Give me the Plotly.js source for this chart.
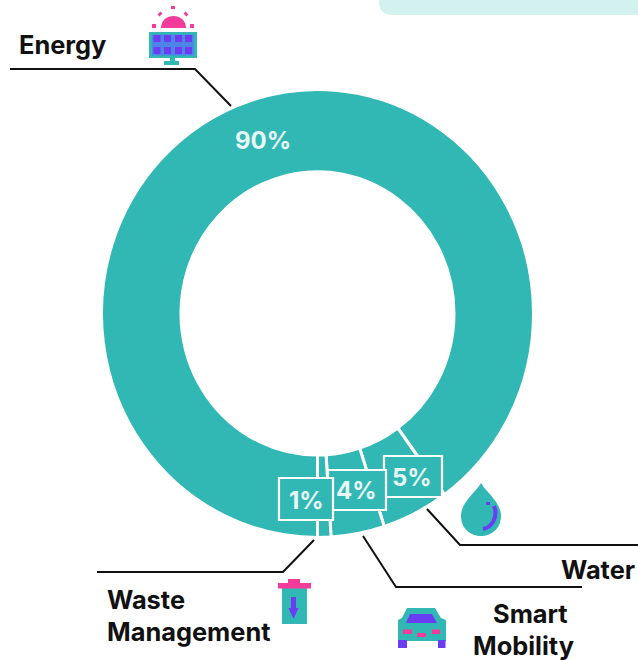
<!DOCTYPE html>
<html>
<head>
<meta charset="utf-8">
<script src="https://cdn.plot.ly/plotly-3.0.1.min.js"></script>
<style>html,body{margin:0;padding:0;background:#fff}#chart{width:638px;height:660px}</style>
</head>
<body>
<div id="chart"></div>
<script>
const categories = ['Energy', 'Water', 'Smart Mobility', 'Waste Management'];
const shares = [90, 5, 4, 1];
const percentLabels = shares.map(v => v + '%');

const W = 638, H = 660;
const TEAL = '#32b8b4', PINK = '#f23b9b', PURPLE = '#6a3cf2', BLUE = '#4d84e8', INK = '#111111';
const px = x => x / W;
const py = y => 1 - y / H;
// Build a paper-referenced SVG path from pixel tokens: letters stay, numbers alternate x,y
function path(tokens) {
  let isX = true;
  return tokens.trim().split(/\s+/).map(t => {
    if (/^[A-Za-z]$/.test(t)) { isX = true; return t; }
    const v = isX ? px(+t) : py(+t);
    isX = !isX;
    return v.toFixed(5);
  }).join(' ');
}
const shape = (d, o) => Object.assign({type: 'path', xref: 'paper', yref: 'paper', path: path(d), layer: 'above', line: {width: 0}}, o);
const fill = (d, c) => shape(d, {fillcolor: c});
const stroke = (d, c, w) => shape(d, {line: {color: c, width: w, shape: 'linear'}, fillcolor: 'rgba(0,0,0,0)'});
const rect = (x0, y0, x1, y1, c) => fill(`M ${x0} ${y0} L ${x1} ${y0} L ${x1} ${y1} L ${x0} ${y1} Z`, c);
const box = (x0, y0, x1, y1) => shape(`M ${x0} ${y0} L ${x1} ${y0} L ${x1} ${y1} L ${x0} ${y1} Z`, {fillcolor: TEAL, line: {color: '#ffffff', width: 2.2}});

const shapes = [
  // top-right panel corner
  shape('M 379 -5 L 379 3 Q 380 15 393 15 L 640 15 L 640 -5 Z', {fillcolor: '#d2f1ef', layer: 'below'}),
  // leader lines
  stroke('M 10 69 L 195 69 L 231 106', INK, 2),
  stroke('M 314 540 L 283 572 L 97 572', INK, 2),
  stroke('M 363 536 L 396 587 L 582 587', INK, 2),
  stroke('M 427 509 L 460 545 L 640 545', INK, 2),
  // value boxes
  box(384, 456, 442, 497),
  box(328, 470, 386, 510),
  box(279, 478, 333, 520),
  // solar panel icon
  fill('M 161 28 C 161 12 186 12 186 28 Z', PINK),
  stroke('M 173 6 L 173 9', PINK, 4),
  stroke('M 159 13 L 161 15', PINK, 4),
  stroke('M 187 13 L 185 15', PINK, 4),
  stroke('M 152 26 L 156 26', PINK, 4),
  stroke('M 190 26 L 194 26', PINK, 4),
  rect(149, 32, 197, 58, TEAL),
  rect(152, 34.5, 194, 55.5, BLUE),
  rect(153.5, 35, 160.5, 42, PURPLE), rect(164, 35, 171, 42, PURPLE), rect(175, 35, 182, 42, PURPLE), rect(185, 35, 192, 42, PURPLE),
  rect(153.5, 47, 160.5, 54, PURPLE), rect(164, 47, 171, 54, PURPLE), rect(175, 47, 182, 54, PURPLE), rect(185, 47, 192, 54, PURPLE),
  rect(170, 58, 175, 62, TEAL),
  rect(164, 61, 179, 65, TEAL),
  // bin icon
  rect(282, 588, 307, 624, TEAL),
  rect(278, 583, 311, 588.5, PINK),
  rect(288, 579, 300, 584, PINK),
  rect(291, 597, 296, 610, PURPLE),
  fill('M 288.5 608 L 298.5 608 L 293.5 619 Z', PURPLE),
  // drop icon
  fill('M 481 483 C 476 492 461 502 461 516 C 461 529 471 536 481 536 C 491 536 501 529 501 516 C 501 502 486 492 481 483 Z', TEAL),
  fill('M 486 502 L 490 502 L 490 505 L 486 505 Z', PURPLE),
  stroke('M 494 506 C 498 516 493 527 483 529', PURPLE, 4),
  // car icon
  fill('M 407 608 L 435 608 L 441 618 L 446 620 L 446 641 L 398 641 L 398 620 L 402 618 Z', TEAL),
  fill('M 410 614 L 432 614 L 437 623 L 406 623 Z', PURPLE),
  rect(403, 629.5, 412, 634, PINK),
  rect(432, 629.5, 440, 634, PINK),
  rect(417, 633, 426, 637, PINK),
  rect(398, 640, 407, 648, PURPLE),
  rect(438, 640, 445.5, 648, PURPLE)
];

const txt = (s, x, y, anchor, color, size) => ({
  text: '<b>' + s + '</b>', xref: 'paper', yref: 'paper', x: px(x), y: py(y),
  xanchor: anchor, yanchor: 'middle', showarrow: false, borderpad: 0,
  font: {family: 'Inter, sans-serif', size: size || 25.4, color: color || INK}
});
const [energy, water, mobility, waste] = categories;
const PCT = '#e6f7f6';
const annotations = [
  txt(energy, 18, 45, 'left'),
  txt(water, 636, 569, 'right'),
  txt(mobility.split(' ')[0], 530, 613, 'center'),
  txt(mobility.split(' ')[1], 523, 645, 'center'),
  txt(waste.split(' ')[0], 105.5, 599, 'left'),
  txt(waste.split(' ')[1], 105.5, 631, 'left'),
  txt(percentLabels[0], 263, 140, 'center', PCT, 24),
  txt(percentLabels[1], 412, 477, 'center', PCT, 24),
  txt(percentLabels[2], 356, 490, 'center', PCT, 24),
  txt(percentLabels[3], 306, 500, 'center', PCT, 24)
];

// Ring geometry: the reference ring is slightly taller than it is wide
const CY = 313.5, RX = 216, RY = 224;
const trace = {
  type: 'pie', labels: categories, values: shares, sort: false,
  direction: 'clockwise', rotation: 180, hole: 0.632,
  textinfo: 'none', hoverinfo: 'label+percent', showlegend: false,
  marker: {colors: categories.map(() => TEAL), line: {color: '#ffffff', width: 3}},
  domain: {x: [px(101.5), px(533.5)], y: [py(CY + RX), py(CY - RX)]}
};

Plotly.newPlot('chart', [trace], {
  width: W, height: H, margin: {l: 0, r: 0, t: 0, b: 0},
  paper_bgcolor: '#ffffff', showlegend: false, shapes, annotations
}, {displayModeBar: false, staticPlot: true}).then(gd => {
  const sy = RY / RX;
  const layer = gd.querySelector('.pielayer');
  if (layer) layer.setAttribute('transform', `translate(0 ${CY * (1 - sy)}) scale(1 ${sy})`);
});
</script>
</body>
</html>
